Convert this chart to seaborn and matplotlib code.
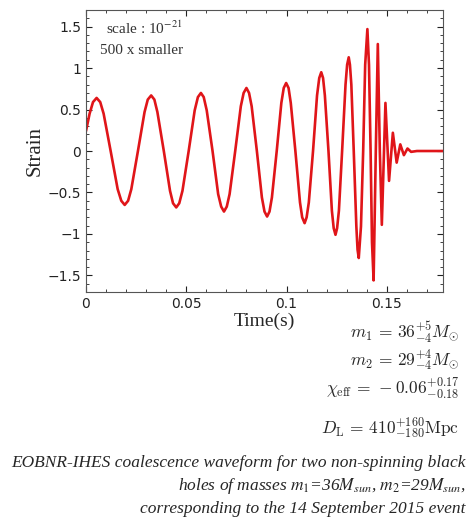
import numpy as np
import pandas as pd
import matplotlib
matplotlib.use("Agg")
import matplotlib.pyplot as plt
import seaborn as sns
from matplotlib.ticker import MultipleLocator

# waveform samples (time in s, strain in units of 1e-21)
time_s = [0.0, 0.0018, 0.0035, 0.0053, 0.0071, 0.0088, 0.0123, 0.0158, 0.0176, 0.0193,
          0.0210, 0.0226, 0.0259, 0.0292, 0.0308, 0.0325,
          0.0341, 0.0356, 0.0388, 0.0419, 0.0434, 0.0450,
          0.0465, 0.0481, 0.0512, 0.0542, 0.0558, 0.0573,
          0.0587, 0.0602, 0.0631, 0.0659, 0.0674, 0.0688,
          0.0702, 0.0716, 0.0744, 0.0772, 0.0786, 0.0800,
          0.0813, 0.0826, 0.0852, 0.0877, 0.0890, 0.0903,
          0.0915, 0.0927, 0.0951, 0.0974, 0.0986, 0.0998,
          0.1010, 0.1021, 0.1044, 0.1067, 0.1078, 0.1090,
          0.1100, 0.1111, 0.1132, 0.1152, 0.1163, 0.1173,
          0.1182, 0.1191, 0.1209, 0.1226, 0.1235, 0.1244,
          0.1252, 0.1261, 0.1277, 0.1294, 0.1302, 0.1310,
          0.1316, 0.1323, 0.1335, 0.1348, 0.1354, 0.1360,
          0.1371, 0.1382, 0.1392, 0.1403,
          0.1411, 0.1419, 0.1426, 0.1434,
          0.1445, 0.1455, 0.1465, 0.1475, 0.1493, 0.1511, 0.1530,
          0.1549, 0.1567, 0.1585, 0.1603, 0.1621, 0.1650, 0.1780]
strain = [0.24, 0.45, 0.59, 0.64, 0.59, 0.45, 0.0, -0.46, -0.60, -0.65,
          -0.60, -0.46, 0.0, 0.47, 0.62, 0.67,
          0.62, 0.47, 0.0, -0.48, -0.63, -0.68,
          -0.63, -0.48, 0.0, 0.49, 0.65, 0.70,
          0.65, 0.49, 0.0, -0.52, -0.67, -0.73,
          -0.67, -0.52, 0.0, 0.54, 0.70, 0.76,
          0.70, 0.54, 0.0, -0.56, -0.73, -0.79,
          -0.73, -0.56, 0.0, 0.58, 0.76, 0.82,
          0.76, 0.58, 0.0, -0.62, -0.80, -0.87,
          -0.80, -0.62, 0.0, 0.67, 0.88, 0.95,
          0.88, 0.67, 0.0, -0.72, -0.93, -1.01,
          -0.93, -0.72, 0.0, 0.80, 1.04, 1.13,
          1.04, 0.80, 0.0, -0.91, -1.19, -1.29,
          -0.91, 0.0, 1.04, 1.47,
          1.04, 0.0, -1.10, -1.56,
          0.0, 1.29, 0.0, -0.89, 0.58, -0.36, 0.22,
          -0.14, 0.08, -0.05, 0.03, -0.01, 0.0, 0.0]

x_ticks = [0, 0.05, 0.1, 0.15]
x_tick_labels = ["0", "0.05", "0.1", "0.15"]
y_ticks = [-1.5, -1, -0.5, 0, 0.5, 1, 1.5]
y_tick_labels = ["\u22121.5", "\u22121", "\u22120.5", "0", "0.5", "1", "1.5"]

params = [r"$m_1\,=\,36^{+5}_{-4}M_{\odot}$",
          r"$m_2\,=\,29^{+4}_{-4}M_{\odot}$",
          r"$\chi_{\rm eff}\,=\,-0.06^{+0.17}_{-0.18}$",
          r"$D_{\rm L}\,=\,410^{+160}_{-180}{\rm Mpc}$"]
caption = ["EOBNR-IHES coalescence waveform for two non-spinning black",
           r"holes of masses $m_1$=36$M_{sun}$, $m_2$=29$M_{sun}$,",
           "corresponding to the 14 September 2015 event"]

df = pd.DataFrame({"Time": time_s, "Strain": strain})

sns.set_style("ticks")
plt.rcParams["font.family"] = ["DejaVu Sans"]

fig = plt.figure(figsize=(4.74, 5.22), dpi=100)
ax = fig.add_axes([0.1814, 0.4406, 0.7532, 0.5402])

sns.lineplot(data=df, x="Time", y="Strain", ax=ax, color="#e01519",
             linewidth=1.9, estimator=None, sort=False)

ax.set_xlim(0, 0.178)
ax.set_ylim(-1.7, 1.7)
ax.set_xticks(x_ticks)
ax.set_xticklabels(x_tick_labels)
ax.set_yticks(y_ticks)
ax.set_yticklabels(y_tick_labels)
ax.xaxis.set_minor_locator(MultipleLocator(0.01))
ax.yaxis.set_minor_locator(MultipleLocator(0.1))
ax.tick_params(which="both", direction="in", top=True, right=True,
               labelsize=10, colors="#222222")
ax.tick_params(which="major", length=4, width=0.8)
ax.tick_params(which="minor", length=2, width=0.6)
for sp in ax.spines.values():
    sp.set_color("#555555")
    sp.set_linewidth(0.8)

ax.set_xlabel("Time(s)", family="Liberation Serif", fontsize=14, labelpad=1)
ax.set_ylabel("Strain", family="Liberation Serif", fontsize=15, labelpad=2)

ax.text(0.055, 0.935, r"scale : 10$^{-21}$", transform=ax.transAxes,
        family="Liberation Serif", fontsize=11, math_fontfamily="stix",
        va="center", color="#333333")
ax.text(0.04, 0.855, "500 x smaller", transform=ax.transAxes,
        family="Liberation Serif", fontsize=11, va="center", color="#333333")

y_params = [332, 360, 388, 428]
for txt, yp in zip(params, y_params):
    fig.text(459 / 474, 1 - yp / 522, txt, ha="right", va="center",
             fontsize=12.5, math_fontfamily="cm")

y_caption = [463, 486, 509]
for txt, yp in zip(caption, y_caption):
    fig.text(466 / 474, 1 - yp / 522, txt, ha="right", va="center",
             family="Liberation Serif", style="italic", fontsize=12.5,
             math_fontfamily="stix")

fig.savefig("out.png", dpi=100, facecolor="white")
